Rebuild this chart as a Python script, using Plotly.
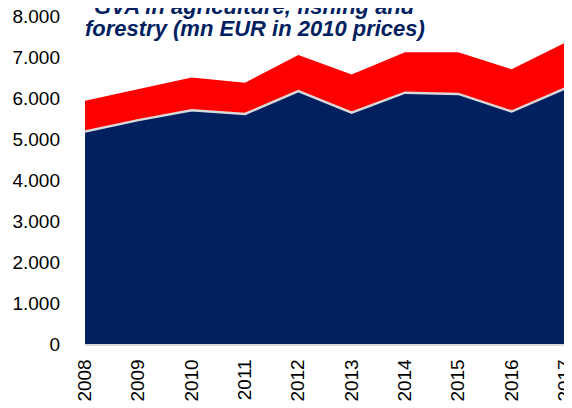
import plotly.graph_objects as go

years = ["2008", "2009", "2010", "2011", "2012", "2013", "2014", "2015", "2016", "2017"]
base_values = [5180, 5460, 5700, 5610, 6170, 5640, 6130, 6100, 5670, 6235]
top_values = [755, 760, 800, 765, 880, 935, 985, 1015, 1030, 1115]
y_ticks = [0, 1000, 2000, 3000, 4000, 5000, 6000, 7000, 8000]
y_tick_text = ["0", "1.000", "2.000", "3.000", "4.000", "5.000", "6.000", "7.000", "8.000"]
title_line1 = "<b><i>GVA in agriculture, fishing and</i></b>"
title_line2 = "<b><i>forestry (mn EUR in 2010 prices)</i></b>"

FONT = "Arial, Liberation Sans, sans-serif"

fig = go.Figure()
fig.add_trace(go.Scatter(
    x=years, y=base_values, stackgroup="s", mode="lines",
    line=dict(color="#D9D9D9", width=2.5), fillcolor="#002060",
    hoverinfo="skip", showlegend=False,
))
fig.add_trace(go.Scatter(
    x=years, y=top_values, stackgroup="s", mode="lines",
    line=dict(color="#FF0000", width=0), fillcolor="#FF0000",
    hoverinfo="skip", showlegend=False,
))

fig.update_layout(
    width=564, height=400,
    margin=dict(l=77, r=7, t=8, b=64),
    paper_bgcolor="white", plot_bgcolor="white",
    font=dict(family=FONT, size=19, color="black"),
    xaxis=dict(
        type="category", range=[0, 9.0001], tickangle=-90,
        showgrid=False, zeroline=False, showline=True, linecolor="#D9D9D9", linewidth=1.5,
        ticks="", ticklabelstandoff=6, automargin=False, ticklabeloverflow="allow",
        tickfont=dict(family=FONT, size=19, color="black"),
    ),
    yaxis=dict(
        range=[0, 8000], tickvals=y_ticks, ticktext=y_tick_text,
        showgrid=False, zeroline=False, showline=False, ticks="",
        ticklabelstandoff=24, automargin=False, ticklabeloverflow="allow",
        tickfont=dict(family=FONT, size=19, color="black"),
    ),
    annotations=[
        dict(text=title_line1, xref="paper", yref="paper",
             x=0.354, y=1.030, xanchor="center", yanchor="middle",
             showarrow=False, font=dict(family=FONT, size=22, color="#002060")),
        dict(text=title_line2, xref="paper", yref="paper",
             x=0.354, y=0.963, xanchor="center", yanchor="middle",
             showarrow=False, font=dict(family=FONT, size=22, color="#002060")),
    ],
)

fig.write_html("out.html")
